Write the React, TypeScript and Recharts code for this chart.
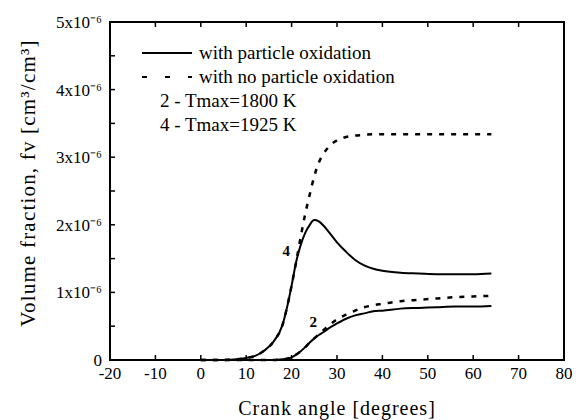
import { LineChart, Line, XAxis, YAxis, ReferenceArea, CartesianGrid } from "recharts";

// crank angle [deg] and soot volume fraction (units of 1e-6 cm3/cm3)
const crankAngle = [0, 5, 8, 10, 12, 14, 16, 18, 19, 20, 21, 22, 23, 24, 25, 26, 27, 28, 30, 32, 34, 36, 38, 40, 44, 48, 52, 56, 60, 64];
const oxid4 = [0, 0, 0.01, 0.03, 0.06, 0.14, 0.27, 0.52, 0.78, 1.1, 1.45, 1.7, 1.88, 2.0, 2.07, 2.05, 1.99, 1.91, 1.74, 1.6, 1.48, 1.4, 1.35, 1.32, 1.29, 1.28, 1.27, 1.27, 1.27, 1.28];
const noOxid4 = [0, 0, 0.01, 0.03, 0.06, 0.14, 0.27, 0.52, 0.78, 1.1, 1.45, 1.82, 2.16, 2.45, 2.72, 2.92, 3.05, 3.14, 3.25, 3.3, 3.32, 3.33, 3.34, 3.34, 3.34, 3.34, 3.34, 3.34, 3.34, 3.34];
const oxid2 = [0, 0, 0, 0, 0, 0, 0, 0.01, 0.02, 0.04, 0.08, 0.13, 0.19, 0.26, 0.32, 0.37, 0.41, 0.46, 0.54, 0.61, 0.66, 0.69, 0.72, 0.73, 0.76, 0.77, 0.78, 0.79, 0.79, 0.8];
const noOxid2 = [0, 0, 0, 0, 0, 0, 0, 0.01, 0.02, 0.04, 0.08, 0.13, 0.19, 0.26, 0.32, 0.38, 0.44, 0.5, 0.6, 0.67, 0.73, 0.78, 0.81, 0.83, 0.87, 0.89, 0.91, 0.93, 0.94, 0.95];

// axis ranges; ticks every 10 deg and every 0.5e-6
const xDomain = [-20, 80];
const yDomain = [0, 5];
const xTickCount = 11;
const yTickCount = 11;

const legendItems = [
  { text: "with particle oxidation", dash: undefined },
  { text: "with no particle oxidation", dash: "5 18" },
];
const caseNotes = ["2 - Tmax=1800 K", "4 - Tmax=1925 K"];

// curve numbers, written next to a point of the solid curve
const label4At = 21;
const label2At = 25;

const data = crankAngle.map((ca, i) => ({
  ca,
  oxid4: oxid4[i],
  noOxid4: noOxid4[i],
  oxid2: oxid2[i],
  noOxid2: noOxid2[i],
}));

const FONT = "serif";

const fmtX = (v: number) => (v % 10 === 0 ? String(v) : "");
const fmtY = (v: number) => (!Number.isInteger(v) ? "" : v === 0 ? "0" : `${v}x10⁻⁶`);

// y title plus the in-plot legend, placed from the y axis box
function YTitleAndLegend({ viewBox }: any) {
  const cx = viewBox.x + 28;
  const cy = viewBox.y + viewBox.height / 2 - 8;
  const left = viewBox.x + viewBox.width;
  const top = viewBox.y;
  return (
    <g>
      <text
        x={cx}
        y={cy}
        transform={`rotate(-90 ${cx} ${cy})`}
        textAnchor="middle"
        dominantBaseline="central"
        fontFamily={FONT}
        fontSize={21}
        letterSpacing={1.2}
        fill="#000"
      >
        Volume fraction, fv [cm³/cm³]
      </text>
      {legendItems.map((item, i) => {
        const y = top + 31 + i * 24;
        return (
          <g key={item.text}>
            <line x1={left + 32} x2={left + 82} y1={y} y2={y} stroke="#000" strokeWidth={2.2} strokeDasharray={item.dash} />
            <text x={left + 89} y={y + 6} fontFamily={FONT} fontSize={19} fill="#000">
              {item.text}
            </text>
          </g>
        );
      })}
      {caseNotes.map((note, i) => (
        <text key={note} x={left + 50} y={top + 85 + i * 24} fontFamily={FONT} fontSize={19} fill="#000">
          {note}
        </text>
      ))}
    </g>
  );
}

const curveNumber = (name: string, at: number, dx: number, dy: number) => (p: any) => {
  if (crankAngle[p.index] !== at) return null;
  return (
    <text x={p.x + dx} y={p.y + dy} textAnchor="middle" fontFamily={FONT} fontSize={15} fontWeight="bold" fill="#000">
      {name}
    </text>
  );
};

const axisLine = { stroke: "#000", strokeWidth: 2 };
const tickLine = { stroke: "#000", strokeWidth: 1.5 };
const tickText = { fill: "#000", fontSize: 17, fontFamily: FONT };

export default function App() {
  return (
    <div style={{ position: "absolute", left: 0, top: 0, width: 576, height: 420, background: "#fff" }}>
      <LineChart width={576} height={420} data={data} margin={{ top: 21, right: 11, left: 0, bottom: 0 }}>
        <CartesianGrid stroke="none" />
        <XAxis
          dataKey="ca"
          type="number"
          domain={xDomain}
          tickCount={xTickCount}
          height={60}
          tickSize={-5}
          tickMargin={12}
          tickLine={tickLine}
          axisLine={axisLine}
          tick={tickText}
          tickFormatter={fmtX}
          label={{ value: "Crank angle [degrees]", position: "insideBottom", offset: 5, fontFamily: FONT, fontSize: 20, letterSpacing: 1, fill: "#000" }}
        />
        <XAxis
          xAxisId="top"
          orientation="top"
          dataKey="ca"
          type="number"
          domain={xDomain}
          tickCount={xTickCount}
          height={1}
          tickSize={-5}
          tickLine={tickLine}
          axisLine={axisLine}
          tickFormatter={() => ""}
        />
        <YAxis
          type="number"
          domain={yDomain}
          tickCount={yTickCount}
          width={110}
          tickSize={-5}
          tickMargin={13}
          tickLine={tickLine}
          axisLine={axisLine}
          tick={tickText}
          tickFormatter={fmtY}
          label={{ content: YTitleAndLegend }}
        />
        <YAxis
          yAxisId="right"
          orientation="right"
          type="number"
          domain={yDomain}
          tickCount={yTickCount}
          width={1}
          tickSize={-5}
          tickLine={tickLine}
          axisLine={axisLine}
          tickFormatter={() => ""}
        />
        <ReferenceArea x1={xDomain[0]} x2={xDomain[1]} y1={yDomain[0]} y2={yDomain[1]} fill="#fff" fillOpacity={0} stroke="#000" strokeWidth={2} />
        <Line type="monotone" dataKey="noOxid4" stroke="#000" strokeWidth={2.5} strokeDasharray="5 7" dot={false} isAnimationActive={false} />
        <Line type="monotone" dataKey="noOxid2" stroke="#000" strokeWidth={2.5} strokeDasharray="5 7" dot={false} isAnimationActive={false} />
        <Line
          type="monotone"
          dataKey="oxid4"
          stroke="#000"
          strokeWidth={2}
          dot={false}
          isAnimationActive={false}
          label={curveNumber("4", label4At, -10, -6)}
        />
        <Line
          type="monotone"
          dataKey="oxid2"
          stroke="#000"
          strokeWidth={2}
          dot={false}
          isAnimationActive={false}
          label={curveNumber("2", label2At, -1, -11)}
        />
      </LineChart>
    </div>
  );
}
